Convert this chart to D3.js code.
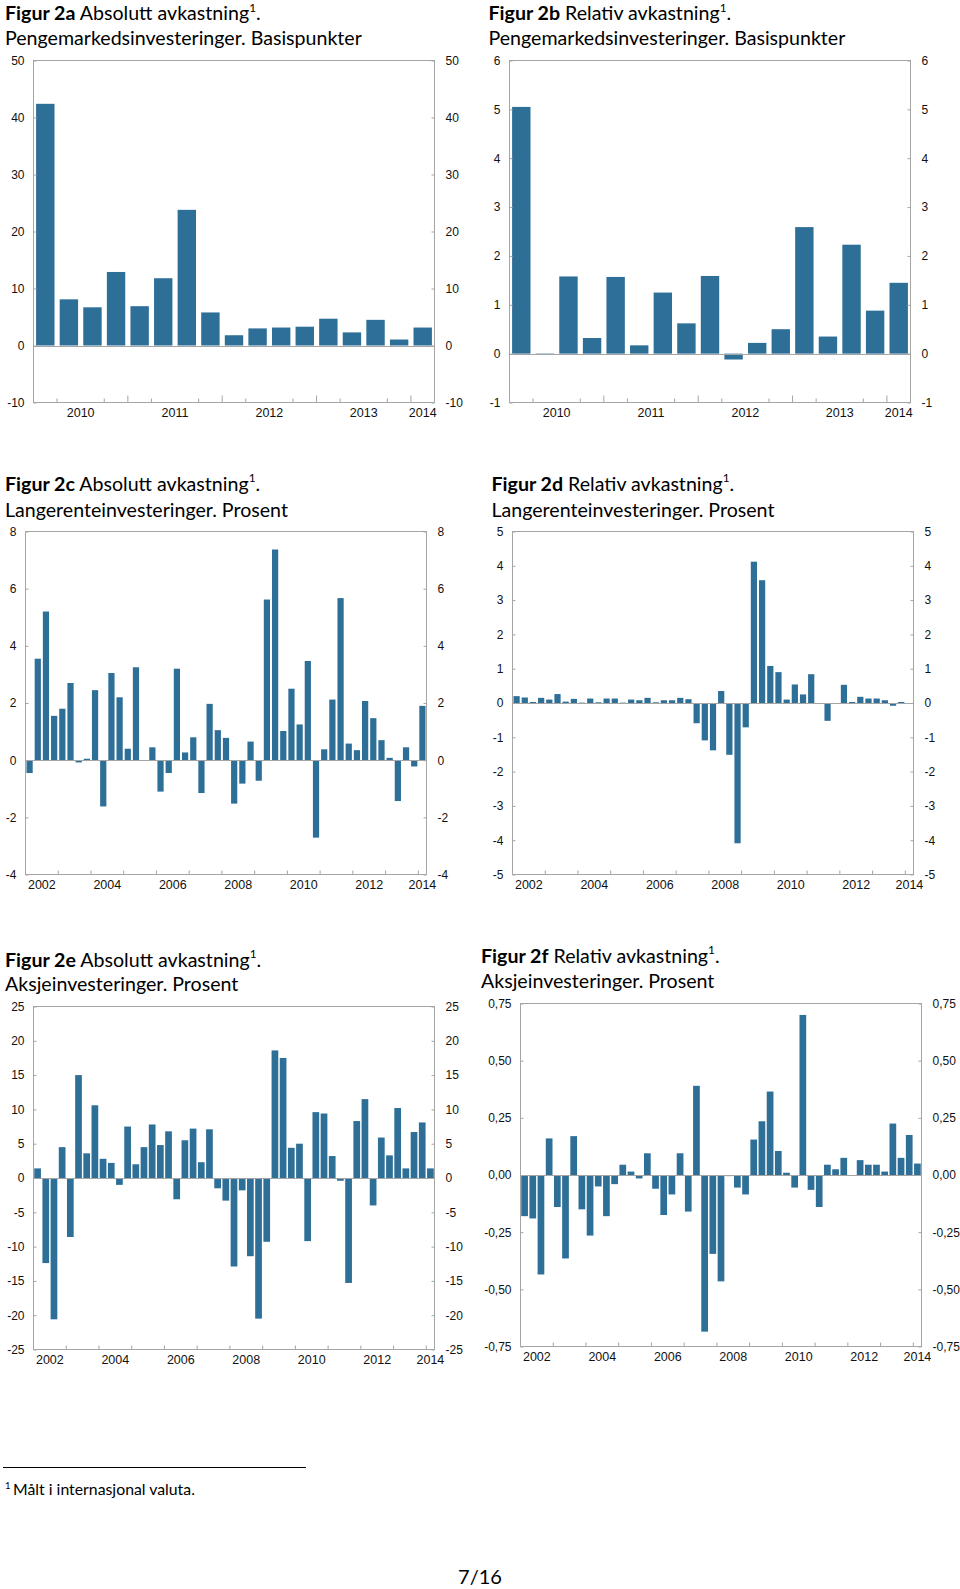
<!DOCTYPE html>
<html><head><meta charset="utf-8">
<script src="https://cdn.jsdelivr.net/npm/d3@7"></script>
<style>
body{margin:0;background:#fff}
svg{display:block}
.tk text{font-family:"Liberation Sans",Arial,sans-serif;font-size:12px;fill:#111}
.tt{font-family:Lato,"Open Sans",sans-serif;fill:#000}
</style>
</head><body>
<svg id="c" width="960" height="1589"></svg>
<script>
// ---------- categories ----------
function quarterList(startYear, endYear){
  const out=[];
  for(let y=startYear;y<endYear;y++) for(let q=1;q<=4;q++) out.push(y+"Q"+q);
  out.push(endYear+"Q1");
  return out;
}
const quartersShort = quarterList(2010, 2014);   // 17 quarters
const quartersLong  = quarterList(2002, 2014);   // 49 quarters

const yearLabelsShort = ["2010","2011","2012","2013","2014"];
const yearLabelsLong  = ["2002","2004","2006","2008","2010","2012","2014"];

// ---------- series values ----------
const absMoney = [42.4, 8.1, 6.7, 12.9, 6.9, 11.8, 23.8, 5.8, 1.8, 3.0, 3.15, 3.3, 4.7, 2.3, 4.5, 1.05, 3.15];
const relMoney = [5.05, -0.02, 1.58, 0.32, 1.57, 0.17, 1.25, 0.62, 1.59, -0.12, 0.22, 0.5, 2.59, 0.35, 2.23, 0.88, 1.45];

const absBond = [-0.45,3.55,5.2,1.55,1.8,2.7,-0.08,0.05,2.45,-1.62,
  3.05,2.2,0.4,3.25,-0.02,0.45,-1.1,-0.45,3.2,0.27,
  0.8,-1.15,1.97,1.05,0.78,-1.52,-0.82,0.65,-0.72,5.62,
  7.37,1.02,2.5,1.25,3.47,-2.71,0.38,2.12,5.67,0.58,
  0.35,2.07,1.47,0.7,0.08,-1.43,0.45,-0.22,1.9];
const relBond = [0.2,0.16,0.03,0.15,0.1,0.26,0.04,0.12,0.01,0.13,
  0.02,0.13,0.13,0.01,0.1,0.08,0.15,0.02,0.08,0.08,
  0.15,0.11,-0.59,-1.09,-1.38,0.35,-1.51,-4.09,-0.71,4.12,
  3.58,1.08,0.9,0.1,0.54,0.25,0.84,0,-0.52,0,
  0.53,0.03,0.18,0.13,0.13,0.08,-0.08,0.03,0];
const absEquity = [1.4,-12.4,-20.6,4.5,-8.6,15.0,3.6,10.6,2.8,2.2,
  -1.0,7.5,2.0,4.5,7.8,4.8,6.8,-3.1,5.5,7.2,
  2.3,7.1,-1.5,-3.3,-12.9,-1.8,-11.4,-20.5,-9.3,18.6,
  17.5,4.4,5.0,-9.2,9.6,9.4,3.2,-0.4,-15.3,8.3,
  11.5,-4.0,5.9,3.3,10.2,1.4,6.7,8.1,1.4];
const relEquity = [-0.18,-0.19,-0.435,0.16,-0.14,-0.365,0.17,-0.15,-0.265,-0.05,
  -0.18,-0.04,0.045,0.015,-0.015,0.095,-0.06,-0.175,-0.085,0.095,
  -0.16,0.39,-0.685,-0.345,-0.465,-0.005,-0.055,-0.085,0.155,0.235,
  0.365,0.105,0.01,-0.055,0.70,-0.065,-0.14,0.045,0.025,0.075,
  0,0.065,0.045,0.045,0.015,0.225,0.075,0.175,0.05];

// ---------- y tick labels ----------
const ticksA = [-10,0,10,20,30,40,50];
const ticksB = [-1,0,1,2,3,4,5,6];
const ticksC = [-4,-2,0,2,4,6,8];
const ticksD = [-5,-4,-3,-2,-1,0,1,2,3,4,5];
const ticksE = [-25,-20,-15,-10,-5,0,5,10,15,20,25];
const ticksF = [-0.75,-0.5,-0.25,0,0.25,0.5,0.75];

// ---------- drawing ----------
const svg = d3.select("#c");
svg.append("rect").attr("width",960).attr("height",1589).attr("fill","#fff");
const BAR = "#2e6f98", GRID = "#a5a5a5";
const FONT = "'Liberation Sans', Arial, sans-serif";
const intFmt = d => String(d);
const commaFmt = d => d3.format(".2f")(d).replace("\u2212","-").replace(".", ",");

function drawChart(cfg){
  const {x0,x1,y0,y1,cats,values,domain,ticks,fmt,years,mode,pad} = cfg;
  const x = d3.scaleBand().domain(cats).range([x0,x1]).paddingInner(pad).paddingOuter(pad/2);
  const y = d3.scaleLinear().domain(domain).range([y1,y0]);
  const g = svg.append("g");
  g.selectAll("rect.bar").data(values).join("rect").attr("class","bar")
    .attr("x",(d,i)=>x(cats[i])).attr("width",x.bandwidth())
    .attr("y",d=>y(Math.max(0,d))).attr("height",d=>Math.abs(y(d)-y(0)))
    .attr("fill",BAR);
  g.append("line").attr("x1",x0).attr("x2",x1).attr("y1",Math.round(y(0))+0.5).attr("y2",Math.round(y(0))+0.5)
    .attr("stroke",GRID);
  g.append("rect").attr("x",x0).attr("y",y0).attr("width",x1-x0).attr("height",y1-y0)
    .attr("fill","none").attr("stroke",GRID);

  const la = d3.axisLeft(y).tickValues(ticks).tickSize(-3).tickPadding(9).tickFormat(fmt);
  const ra = d3.axisRight(y).tickValues(ticks).tickSize(-3).tickPadding(11).tickFormat(fmt);
  [[la,x0],[ra,x1]].forEach(([ax,px])=>{
    const a = g.append("g").attr("class","tk").attr("transform",`translate(${px},0)`).call(ax);
    a.attr("font-family",null).attr("font-size",null);
    a.select(".domain").remove();
    a.selectAll(".tick line").attr("stroke",GRID);
    a.selectAll(".tick text").style("font-family",FONT).style("font-size","12px").attr("fill","#111");
  });

  // x ticks at quarter boundaries
  const step = x.step();
  const bounds = [];
  for(let k=1;k<cats.length;k++){
    if(mode==="short"){ if(k%4===2) continue; bounds.push({k,len:k%4===0?7:4}); }
    else { if(k%4===0) bounds.push({k,len:4}); }
  }
  g.selectAll("line.xt").data(bounds).join("line").attr("class","xt")
    .attr("x1",d=>x0+d.k*step).attr("x2",d=>x0+d.k*step)
    .attr("y1",y1).attr("y2",d=>y1-d.len).attr("stroke",GRID);

  // year labels centred on that year's quarters
  const lab = g.append("g").attr("class","tk");
  years.forEach(yr=>{
    const idx = cats.map((c,i)=>c.startsWith(yr)?i:-1).filter(i=>i>=0);
    const a = x0 + idx[0]*step, b = x0 + (idx[idx.length-1]+1)*step;
    lab.append("text").attr("x",(a+b)/2).attr("y",y1+14).attr("text-anchor","middle")
      .style("font-family",FONT).style("font-size","12.5px").text(yr);
  });
}

// title font fitting
const probe = svg.append("text").attr("class","tt").style("font-size","20px").text("Pengemarkedsinvesteringer. Basispunkter");
const TFS = 20*357/probe.node().getComputedTextLength();
probe.remove();

function title(x, b1, b2, bold, rest, line2){
  const t = svg.append("text").attr("class","tt").attr("x",x).attr("y",b1).style("font-size",TFS+"px");
  t.append("tspan").attr("font-weight","bold").text(bold);
  t.append("tspan").text(" "+rest);
  t.append("tspan").attr("dy",-TFS*0.42).style("font-size",(TFS*0.6)+"px").text("1");
  t.append("tspan").attr("dy",TFS*0.42).text(".");
  svg.append("text").attr("class","tt").attr("x",x).attr("y",b2).style("font-size",TFS+"px").text(line2);
}

title(5,20,44.5,"Figur 2a","Absolutt avkastning","Pengemarkedsinvesteringer. Basispunkter");
title(488.5,20,44.5,"Figur 2b","Relativ avkastning","Pengemarkedsinvesteringer. Basispunkter");
title(5,490.5,516.5,"Figur 2c","Absolutt avkastning","Langerenteinvesteringer. Prosent");
title(491.5,490.5,516.5,"Figur 2d","Relativ avkastning","Langerenteinvesteringer. Prosent");
title(5,966.5,991,"Figur 2e","Absolutt avkastning","Aksjeinvesteringer. Prosent");
title(481,962.5,987.5,"Figur 2f","Relativ avkastning","Aksjeinvesteringer. Prosent");

drawChart({x0:33.5,x1:434.5,y0:60.5,y1:402.5,cats:quartersShort,values:absMoney,domain:[-10,50],ticks:ticksA,fmt:intFmt,years:yearLabelsShort,mode:"short",pad:0.22});
drawChart({x0:509.5,x1:910.5,y0:60.5,y1:402.5,cats:quartersShort,values:relMoney,domain:[-1,6],ticks:ticksB,fmt:intFmt,years:yearLabelsShort,mode:"short",pad:0.22});
drawChart({x0:25.5,x1:426.5,y0:531.5,y1:874.5,cats:quartersLong,values:absBond,domain:[-4,8],ticks:ticksC,fmt:intFmt,years:yearLabelsLong,mode:"long",pad:0.24});
drawChart({x0:512.5,x1:913.5,y0:531.5,y1:874.5,cats:quartersLong,values:relBond,domain:[-5,5],ticks:ticksD,fmt:intFmt,years:yearLabelsLong,mode:"long",pad:0.24});
drawChart({x0:33.5,x1:434.5,y0:1006.5,y1:1349.5,cats:quartersLong,values:absEquity,domain:[-25,25],ticks:ticksE,fmt:intFmt,years:yearLabelsLong,mode:"long",pad:0.18});
drawChart({x0:520.5,x1:921.5,y0:1003.5,y1:1346.5,cats:quartersLong,values:relEquity,domain:[-0.75,0.75],ticks:ticksF,fmt:commaFmt,years:yearLabelsLong,mode:"long",pad:0.18});

// footnote
svg.append("line").attr("x1",3).attr("x2",306).attr("y1",1467.5).attr("y2",1467.5).attr("stroke","#000").attr("stroke-width",1.2);
const fp = svg.append("text").attr("class","tt").style("font-size","16px").text("Målt i internasjonal valuta.");
const FFS = 16*182/fp.node().getComputedTextLength();
fp.remove();
svg.append("text").attr("class","tt").attr("x",5).attr("y",1489).style("font-size",(FFS*0.6)+"px").text("1");
svg.append("text").attr("class","tt").attr("x",13).attr("y",1495).style("font-size",FFS+"px").text("Målt i internasjonal valuta.");
// page number
svg.append("text").attr("class","tt").attr("x",480).attr("y",1584).attr("text-anchor","middle").style("font-size","20px").text("7/16");
</script>
</body></html>
